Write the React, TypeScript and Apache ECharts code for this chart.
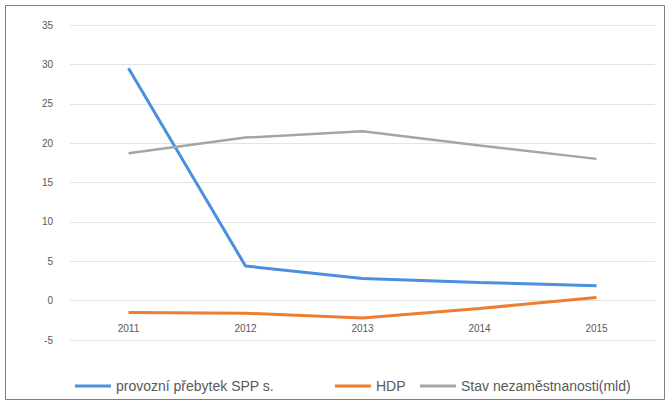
import React, { useEffect, useRef } from "react";
import * as echarts from "echarts";

const years = ["2011", "2012", "2013", "2014", "2015"];
const seriesNames = ["provozní přebytek SPP s.", "HDP", "Stav nezaměstnanosti(mld)"];
const blueValues = [29.5, 4.4, 2.8, 2.3, 1.9];
const orangeValues = [-1.5, -1.6, -2.2, -1.0, 0.4];
const grayValues = [18.7, 20.7, 21.5, 19.7, 18.0];
const colors = ["#4A90DC", "#ED7D31", "#A5A5A5"];
const legendLefts = [70, 330, 415];

export default function App() {
  const ref = useRef<HTMLDivElement>(null);
  useEffect(() => {
    document.body.style.margin = "0";
    const chart = echarts.init(ref.current!, null, { renderer: "svg" });
    const values = [blueValues, orangeValues, grayValues];
    chart.setOption({
      animation: false,
      backgroundColor: "#ffffff",
      color: colors,
      textStyle: { fontFamily: "Liberation Sans, Arial, sans-serif" },
      graphic: [
        {
          type: "rect",
          shape: { x: 5.5, y: 5.5, width: 659, height: 394 },
          style: { fill: "none", stroke: "#7f7f7f", lineWidth: 1 },
          silent: true,
        },
      ],
      grid: { left: 70, right: 17, top: 25, bottom: 66 },
      legend: seriesNames.map((name, i) => ({
        left: legendLefts[i],
        top: 374,
        icon: "rect",
        itemWidth: 36,
        itemHeight: 3,
        itemGap: 6,
        textStyle: { color: "#595959", fontSize: 14 },
        data: [name],
      })),
      xAxis: {
        type: "category",
        data: years,
        boundaryGap: true,
        axisLine: { show: false },
        axisTick: { show: false },
        axisLabel: { color: "#595959", fontSize: 10, margin: -17 },
      },
      yAxis: {
        type: "value",
        min: -5,
        max: 35,
        interval: 5,
        axisLine: { show: false },
        axisTick: { show: false },
        axisLabel: { color: "#595959", fontSize: 10, margin: 17 },
        splitLine: { lineStyle: { color: "#e4e4e4", width: 1 } },
      },
      series: seriesNames.map((name, i) => ({
        name,
        type: "line",
        data: values[i],
        symbol: "none",
        smooth: false,
        lineStyle: { width: i === 2 ? 2.5 : 3, color: colors[i] },
        itemStyle: { color: colors[i] },
      })),
    });
    return () => chart.dispose();
  }, []);
  return <div ref={ref} style={{ width: 672, height: 406 }} />;
}
